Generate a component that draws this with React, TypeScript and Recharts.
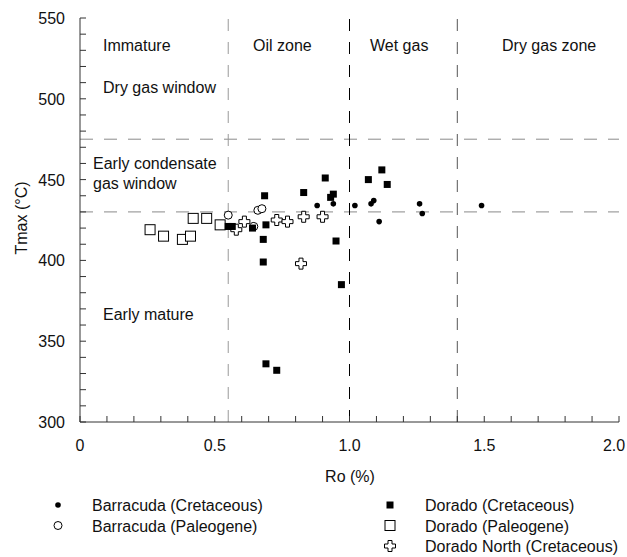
import React from "react"
import { ScatterChart, Scatter, XAxis, YAxis, ReferenceLine } from "recharts"

// Ro (%) vs Tmax (°C)
const barracudaCretaceous = [
    { ro: 0.88, tmax: 434 }, { ro: 0.94, tmax: 435 }, { ro: 1.02, tmax: 434 },
    { ro: 1.08, tmax: 435 }, { ro: 1.09, tmax: 437 }, { ro: 1.11, tmax: 424 },
    { ro: 1.26, tmax: 435 }, { ro: 1.27, tmax: 429 }, { ro: 1.49, tmax: 434 },
]
const barracudaPaleogene = [
    { ro: 0.55, tmax: 428 }, { ro: 0.645, tmax: 421 }, { ro: 0.66, tmax: 431 }, { ro: 0.675, tmax: 432 },
]
const doradoCretaceous = [
    { ro: 0.55, tmax: 421 }, { ro: 0.565, tmax: 421 }, { ro: 0.64, tmax: 420 }, { ro: 0.68, tmax: 413 },
    { ro: 0.68, tmax: 399 }, { ro: 0.69, tmax: 422 }, { ro: 0.685, tmax: 440 }, { ro: 0.69, tmax: 336 },
    { ro: 0.73, tmax: 332 }, { ro: 0.83, tmax: 442 }, { ro: 0.91, tmax: 451 }, { ro: 0.93, tmax: 439 },
    { ro: 0.94, tmax: 441 }, { ro: 0.95, tmax: 412 }, { ro: 0.97, tmax: 385 }, { ro: 1.07, tmax: 450 },
    { ro: 1.12, tmax: 456 }, { ro: 1.14, tmax: 447 },
]
const doradoPaleogene = [
    { ro: 0.26, tmax: 419 }, { ro: 0.31, tmax: 415 }, { ro: 0.38, tmax: 413 }, { ro: 0.41, tmax: 415 },
    { ro: 0.42, tmax: 426 }, { ro: 0.47, tmax: 426 }, { ro: 0.52, tmax: 422 },
]
const doradoNorthCretaceous = [
    { ro: 0.58, tmax: 419 }, { ro: 0.61, tmax: 424 }, { ro: 0.73, tmax: 425 }, { ro: 0.77, tmax: 424 },
    { ro: 0.83, tmax: 427 }, { ro: 0.90, tmax: 427 }, { ro: 0.82, tmax: 398 },
]

const xTicks = [0, 0.1, 0.2, 0.3, 0.4, 0.5, 0.6, 0.7, 0.8, 0.9, 1.0, 1.1, 1.2, 1.3, 1.4, 1.5, 1.6, 1.7, 1.8, 1.9, 2.0]
const xLabels = ["0", "0.5", "1.0", "1.5", "2.0"]
const yTicks = [300, 310, 320, 330, 340, 350, 360, 370, 380, 390, 400, 410, 420, 430, 440, 450, 460, 470, 480, 490, 500, 510, 520, 530, 540, 550]
const zoneBoundsRo = [0.55, 1.0, 1.4]
const zoneBoundsTmax = [475, 430]

const W = 627
const H = 557
const TOP = 18
const BOTTOM = 422
const LEFT = 80
const RIGHT = 619
const FONT = "'Liberation Sans', Arial, sans-serif"
const AXIS = "#333"

const fmtX = (v: number) => (Math.abs(v * 2 - Math.round(v * 2)) < 1e-6 ? (v === 0 ? "0" : v.toFixed(1)) : "")

const BottomTick = (props: any) => {
    const { x, payload } = props
    const label = fmtX(payload.value)
    // last label pulled in a little so it stays on the page
    const tx = label === "2.0" ? x - 5 : x
    return (
        <g>
            <line x1={x} x2={x} y1={BOTTOM} y2={BOTTOM - 6} stroke={AXIS} />
            {xLabels.includes(label) && (
                <text x={tx} y={BOTTOM + 29} textAnchor="middle" fontSize={16} fill="#111" fontFamily={FONT}>{label}</text>
            )}
        </g>
    )
}
const TopTick = (props: any) => (
    <line x1={props.x} x2={props.x} y1={TOP} y2={TOP + 6} stroke={AXIS} />
)
const LeftTick = (props: any) => {
    const { y, payload } = props
    return (
        <g>
            <line x1={LEFT} x2={LEFT + 6} y1={y} y2={y} stroke={AXIS} />
            {payload.value % 50 === 0 && (
                <text x={LEFT - 15} y={y + 6} textAnchor="end" fontSize={16} fill="#111" fontFamily={FONT}>{payload.value}</text>
            )}
        </g>
    )
}
const RightTick = (props: any) => (
    <line x1={RIGHT} x2={RIGHT - 6} y1={props.y} y2={props.y} stroke={AXIS} />
)

const FilledCircle = ({ cx, cy }: any) => <circle cx={cx} cy={cy} r={2.8} fill="#000" />
const OpenCircle = ({ cx, cy }: any) => <circle cx={cx} cy={cy} r={4} fill="#fff" stroke="#000" strokeWidth={1} />
const FilledSquare = ({ cx, cy }: any) => <rect x={cx - 3.5} y={cy - 3.5} width={7} height={7} fill="#000" />
const OpenSquare = ({ cx, cy }: any) => <rect x={cx - 5} y={cy - 5} width={10} height={10} fill="#fff" stroke="#000" strokeWidth={1} />
const OpenCross = ({ cx, cy }: any) => {
    const a = 2, b = 5.5
    const d = `M${cx - a},${cy - b}H${cx + a}V${cy - a}H${cx + b}V${cy + a}H${cx + a}V${cy + b}H${cx - a}V${cy + a}H${cx - b}V${cy - a}H${cx - a}Z`
    return <path d={d} fill="#fff" stroke="#000" strokeWidth={1} />
}

const legendLeft = [
    { name: "Barracuda (Cretaceous)", Shape: FilledCircle },
    { name: "Barracuda (Paleogene)", Shape: OpenCircle },
]
const legendRight = [
    { name: "Dorado (Cretaceous)", Shape: FilledSquare },
    { name: "Dorado (Paleogene)", Shape: OpenSquare },
    { name: "Dorado North (Cretaceous)", Shape: OpenCross },
]

const zoneText = [
    { text: "Immature", x: 103, y: 51 },
    { text: "Oil zone", x: 253, y: 51 },
    { text: "Wet gas", x: 370, y: 51 },
    { text: "Dry gas zone", x: 502, y: 51 },
    { text: "Dry gas window", x: 103, y: 93 },
    { text: "Early condensate", x: 93, y: 169 },
    { text: "gas window", x: 93, y: 189 },
    { text: "Early mature", x: 103, y: 320 },
]

export default function App() {
    return (
        <div style={{ position: "absolute", left: 0, top: 0, width: W, height: H, background: "#fff", fontFamily: FONT }}>
            <ScatterChart width={W} height={H} margin={{ top: TOP, right: W - RIGHT, bottom: 105, left: 0 }}>
                <XAxis xAxisId="bottom" type="number" dataKey="ro" domain={[0, 2]} ticks={xTicks} interval={0}
                    height={30} stroke={AXIS} tickLine={false} tick={<BottomTick />} allowDataOverflow />
                <XAxis xAxisId="top" orientation="top" type="number" dataKey="ro" domain={[0, 2]} ticks={xTicks} interval={0}
                    height={0} stroke={AXIS} tickLine={false} tick={<TopTick />} allowDataOverflow />
                <YAxis yAxisId="left" type="number" dataKey="tmax" domain={[300, 550]} ticks={yTicks} interval={0}
                    width={80} stroke={AXIS} tickLine={false} tick={<LeftTick />} allowDataOverflow />
                <YAxis yAxisId="right" orientation="right" type="number" dataKey="tmax" domain={[300, 550]} ticks={yTicks} interval={0}
                    width={0} stroke="#888" tickLine={false} tick={<RightTick />} allowDataOverflow />

                {zoneBoundsTmax.map((t) => (
                    <ReferenceLine key={`h${t}`} xAxisId="bottom" yAxisId="left" y={t} stroke="#8a8a8a" strokeDasharray="13 11" />
                ))}
                {zoneBoundsRo.map((r, i) => (
                    <ReferenceLine key={`v${r}`} xAxisId="bottom" yAxisId="left" x={r}
                        stroke={i === 0 ? "#999" : i === 1 ? "#000" : "#555"} strokeDasharray="12 11" />
                ))}

                <Scatter name="Dorado (Paleogene)" data={doradoPaleogene} xAxisId="bottom" yAxisId="left" shape={OpenSquare} isAnimationActive={false} />
                <Scatter name="Barracuda (Paleogene)" data={barracudaPaleogene} xAxisId="bottom" yAxisId="left" shape={OpenCircle} isAnimationActive={false} />
                <Scatter name="Dorado North (Cretaceous)" data={doradoNorthCretaceous} xAxisId="bottom" yAxisId="left" shape={OpenCross} isAnimationActive={false} />
                <Scatter name="Dorado (Cretaceous)" data={doradoCretaceous} xAxisId="bottom" yAxisId="left" shape={FilledSquare} isAnimationActive={false} />
                <Scatter name="Barracuda (Cretaceous)" data={barracudaCretaceous} xAxisId="bottom" yAxisId="left" shape={FilledCircle} isAnimationActive={false} />
                {/* keep the mirror axes bound */}
                <Scatter data={[]} xAxisId="top" yAxisId="right" isAnimationActive={false} />
            </ScatterChart>

            {/* zone labels, axis titles and legend */}
            <svg width={W} height={H} style={{ position: "absolute", left: 0, top: 0, pointerEvents: "none" }}>
                {zoneText.map((z) => (
                    <text key={z.text} x={z.x} y={z.y} fontSize={16} fill="#111" fontFamily={FONT}>{z.text}</text>
                ))}
                <text x={350} y={482} textAnchor="middle" fontSize={16} fill="#111" fontFamily={FONT}>Ro (%)</text>
                <text transform="translate(27,218) rotate(-90)" textAnchor="middle" fontSize={16} fill="#111" fontFamily={FONT}>Tmax (°C)</text>
                {legendLeft.map((l, i) => (
                    <g key={l.name}>
                        <l.Shape cx={58} cy={505 + i * 20.5} />
                        <text x={92} y={511 + i * 20.5} fontSize={16} fill="#111" fontFamily={FONT}>{l.name}</text>
                    </g>
                ))}
                {legendRight.map((l, i) => (
                    <g key={l.name}>
                        <l.Shape cx={390} cy={505 + i * 20.5} />
                        <text x={425} y={511 + i * 20.5} fontSize={16} fill="#111" fontFamily={FONT}>{l.name}</text>
                    </g>
                ))}
            </svg>
        </div>
    )
}
